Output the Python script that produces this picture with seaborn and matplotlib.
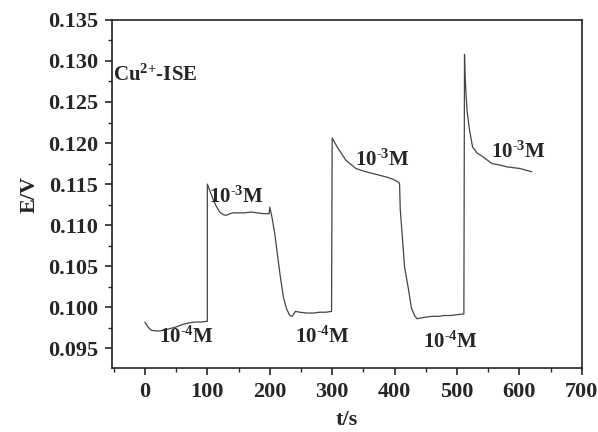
import numpy as np
import pandas as pd
import seaborn as sns
import matplotlib
matplotlib.use("Agg")
import matplotlib.pyplot as plt
from matplotlib.ticker import MultipleLocator

# potential-time trace (t in s, E in V)
t_s = [0, 5, 10, 20, 30, 40, 50, 60, 70, 80, 90, 100,
       100, 102, 105, 110, 115, 120, 125, 130, 140, 150, 160, 170, 180, 190, 199,
       200, 203, 208, 213, 217, 222, 227, 232, 236, 241, 248, 260, 270, 280, 290, 299,
       300, 309, 322, 338, 354, 375, 390, 400, 407,
       408, 409, 412, 416, 422, 427, 432, 436, 442, 450, 460, 470, 480, 490, 500, 511,
       512, 513, 516, 520, 525, 532, 542, 556, 570, 580, 590, 601, 610, 620]
e_v = [0.0982, 0.0976, 0.0972, 0.0971, 0.0972, 0.0974, 0.0976, 0.0979, 0.0981, 0.0982, 0.0982, 0.0983,
       0.1150, 0.1146, 0.1140, 0.1130, 0.1122, 0.1116, 0.1113, 0.1112, 0.1115, 0.1115, 0.1115, 0.1116, 0.1115, 0.1114, 0.1114,
       0.1122, 0.1112, 0.1090, 0.1060, 0.1037, 0.1012, 0.0998, 0.0990, 0.0989, 0.0995, 0.0994, 0.0993, 0.0993, 0.0994, 0.0994, 0.0995,
       0.1206, 0.1194, 0.1179, 0.1169, 0.1165, 0.1161, 0.1158, 0.1155, 0.1152,
       0.1150, 0.1120, 0.1090, 0.1049, 0.1023, 0.0999, 0.0990, 0.0986, 0.0987, 0.0988, 0.0989, 0.0989, 0.0990, 0.0990, 0.0991, 0.0992,
       0.1308, 0.1280, 0.1240, 0.1216, 0.1195, 0.1188, 0.1183, 0.1175, 0.1173, 0.1171, 0.1170, 0.1169, 0.1167, 0.1165]

# concentration labels: (t, E, exponent)
lab_t = [66, 146, 284, 381, 489, 598]
lab_e = [0.0963, 0.1134, 0.0963, 0.1179, 0.0957, 0.1189]
lab_exp = ["-4", "-3", "-4", "-3", "-4", "-3"]

df = pd.DataFrame({"t": t_s, "E": e_v})

sns.set_style("ticks")
plt.rcParams["font.family"] = ["Liberation Serif", "DejaVu Serif"]
plt.rcParams["font.weight"] = "bold"
plt.rcParams["mathtext.fontset"] = "custom"
plt.rcParams["mathtext.rm"] = "Liberation Serif:bold"
plt.rcParams["mathtext.bf"] = "Liberation Serif:bold"
plt.rcParams["mathtext.default"] = "bf"

fig = plt.figure(figsize=(5.98, 4.32), dpi=100)
ax = fig.add_axes([0.187, 0.148, 0.786, 0.806])

sns.lineplot(data=df, x="t", y="E", ax=ax, estimator=None, sort=False,
             color="#444444", linewidth=0.9)

ax.set_xlim(-53, 700)
ax.set_ylim(0.0926, 0.135)
ax.xaxis.set_major_locator(MultipleLocator(100))
ax.xaxis.set_minor_locator(MultipleLocator(50))
ax.yaxis.set_major_locator(MultipleLocator(0.005))
ax.yaxis.set_minor_locator(MultipleLocator(0.0025))
ax.yaxis.set_major_formatter(matplotlib.ticker.FormatStrFormatter("%.3f"))
ax.tick_params(which="major", direction="out", length=5, width=1.2, labelsize=16, pad=5)
ax.tick_params(which="minor", direction="out", length=3, width=1.0)
for lbl in ax.get_xticklabels() + ax.get_yticklabels():
    lbl.set_fontweight("bold")
for sp in ax.spines.values():
    sp.set_linewidth(1.2)
    sp.set_color("#222222")

ax.set_xlabel("t/s", fontsize=16, fontweight="bold", labelpad=6)
ax.set_ylabel("E/V", fontsize=16, fontweight="bold", labelpad=6)

ax.text(-51, 0.1283, r"Cu$^{\text{2+}}$-ISE", fontsize=15, fontweight="bold",
        ha="left", va="center")
for x, y, ex in zip(lab_t, lab_e, lab_exp):
    ax.text(x, y, "10$^{\\text{" + ex + "}}$M", fontsize=15, fontweight="bold",
            ha="center", va="center")

fig.savefig("out.png", dpi=100)
